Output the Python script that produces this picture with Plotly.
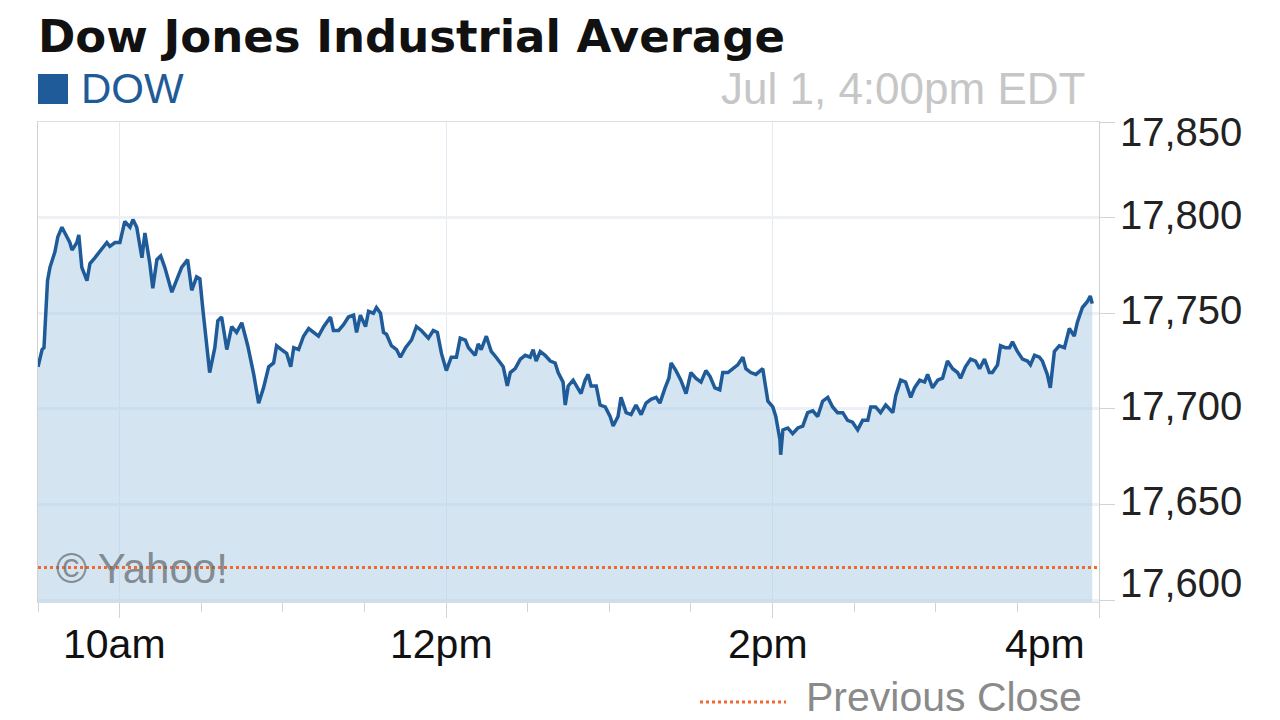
import plotly.graph_objects as go

# ---------------- data ----------------
minutes_after_open = [
    0, 1.5, 2.2, 2.8, 3.5, 4.4, 6.2, 7.3, 8.8, 10.6, 11.7, 12.5, 14.3, 15.0, 16.1, 18.0, 19.1, 20.9,
    23.5, 25.3, 26.4, 28.3, 30.1, 31.9, 33.8, 34.9, 36.3, 38.2, 39.3, 41.1, 42.2, 43.7, 45.1, 46.6,
    49.2, 51.0, 52.8, 55.0, 56.5, 58.3, 59.5, 60.6, 62.0, 63.1, 65.0, 66.1, 67.5, 69.4, 71.2, 73.0,
    74.9, 77.1, 79.3, 81.1, 82.9, 84.8, 86.6, 87.7, 89.5, 91.4, 92.9, 94.0, 95.8, 97.6, 99.5, 101.3,
    103.1, 105.0, 107.5, 108.6, 110.5, 112.3, 114.1, 116.0, 117.1, 118.5, 120.4, 121.5, 123.3, 124.4,
    125.9, 127.0, 128.1, 129.9, 131.8, 133.2, 135.1, 137.3, 139.1, 140.9, 143.5, 145.3, 146.8, 148.3,
    150.1, 151.9, 153.8, 155.2, 157.1, 158.2, 160.7, 161.8, 162.9, 164.8, 166.6, 168.4, 171.0, 172.5,
    173.6, 175.4, 177.3, 179.1, 180.9, 182.0, 183.1, 184.6, 186.4, 188.3, 190.1, 191.2, 193.0, 193.8,
    194.9, 196.7, 198.5, 199.6, 201.1, 202.2, 203.3, 205.2, 206.6, 208.5, 210.3, 211.4, 213.2, 214.3,
    216.2, 218.0, 219.8, 221.7, 223.5, 225.3, 227.2, 228.6, 230.5, 231.9, 232.7, 234.5, 236.3, 238.2,
    240.0, 241.8, 243.7, 245.5, 247.0, 248.8, 250.6, 251.7, 253.6, 255.4, 257.2, 259.1, 260.2, 262.0,
    263.9, 266.4, 267.5, 268.3, 270.1, 271.2, 272.7, 273.0, 273.8, 275.6, 277.4, 279.3, 281.1, 282.9,
    284.8, 286.6, 288.4, 290.3, 292.1, 293.9, 295.8, 297.6, 299.4, 301.3, 303.1, 305.0, 306.1, 307.9,
    309.7, 311.6, 312.3, 314.2, 315.3, 317.1, 318.9, 320.8, 322.2, 324.1, 325.9, 327.0, 328.8, 330.7,
    332.5, 334.3, 336.2, 338.0, 339.1, 340.9, 342.8, 344.6, 346.1, 347.9, 349.7, 350.8, 352.7, 353.8,
    355.6, 357.1, 358.2, 360.0, 361.9, 363.7, 364.8, 366.3, 368.1, 369.2, 371.0, 372.1, 373.6, 375.4,
    377.3, 379.1, 380.9, 382.0, 383.9, 385.7, 386.8, 387.5,
]
dow_values = [
    17722, 17731, 17732, 17752, 17767, 17774, 17782, 17790, 17795, 17790, 17787, 17783, 17787, 17791,
    17774, 17767, 17776, 17779, 17784, 17787, 17785, 17787, 17787, 17798, 17795, 17799, 17795, 17779,
    17792, 17776, 17763, 17778, 17780, 17774, 17761, 17767, 17774, 17778, 17762, 17769, 17768, 17752,
    17732, 17719, 17732, 17746, 17748, 17731, 17743, 17740, 17745, 17733, 17718, 17703, 17711, 17722,
    17724, 17733, 17731, 17729, 17722, 17732, 17731, 17738, 17742, 17740, 17738, 17743, 17748, 17741,
    17741, 17744, 17748, 17749, 17740, 17749, 17743, 17751, 17750, 17753, 17750, 17740, 17739, 17733,
    17731, 17727, 17732, 17736, 17743, 17741, 17737, 17741, 17740, 17729, 17720, 17727, 17727, 17737,
    17736, 17732, 17728, 17734, 17731, 17738, 17730, 17727, 17722, 17712, 17719, 17721, 17726, 17728,
    17727, 17731, 17725, 17730, 17728, 17725, 17724, 17719, 17714, 17702, 17712, 17715, 17711, 17708,
    17715, 17718, 17712, 17712, 17702, 17701, 17696, 17691, 17696, 17706, 17698, 17697, 17702, 17697,
    17703, 17705, 17706, 17703, 17711, 17716, 17724, 17720, 17715, 17708, 17719, 17716, 17714, 17720,
    17717, 17711, 17710, 17719, 17719, 17721, 17723, 17727, 17721, 17719, 17718, 17721, 17710, 17704,
    17701, 17696, 17684, 17676, 17689, 17690, 17687, 17690, 17691, 17698, 17699, 17696, 17704, 17706,
    17701, 17698, 17698, 17694, 17693, 17689, 17694, 17694, 17701, 17701, 17698, 17702, 17701, 17698,
    17707, 17715, 17714, 17706, 17711, 17715, 17714, 17718, 17711, 17715, 17716, 17725, 17721, 17719,
    17716, 17722, 17726, 17725, 17721, 17726, 17719, 17719, 17723, 17733, 17732, 17732, 17735, 17730,
    17726, 17725, 17723, 17728, 17727, 17725, 17718, 17711, 17730, 17733, 17732, 17742, 17738, 17745,
    17753, 17756, 17759, 17755,
]
previous_close = 17617
open_hour = 9.5
close_hour = 16.0
y_ticks = [17600, 17650, 17700, 17750, 17800, 17850]
x_tick_hours = [10, 12, 14, 16]
x_tick_labels = ["10am", "12pm", "2pm", "4pm"]
title_text = "Dow Jones Industrial Average"
series_name = "DOW"
timestamp_text = "Jul 1, 4:00pm EDT"

# ---------------- figure ----------------
hours = [open_hour + m / 60.0 for m in minutes_after_open]

LINE = "#1f5b98"
ORANGE = "#f0692e"
FONT = "Liberation Sans, Arial, sans-serif"

fig = go.Figure()
fig.add_trace(go.Scatter(
    x=hours, y=dow_values, mode="lines",
    line=dict(color=LINE, width=3.5),
    fill="tozeroy", fillcolor="rgba(170,203,228,0.5)",
    hoverinfo="x+y", showlegend=False,
))
fig.add_trace(go.Scatter(
    x=[open_hour, close_hour], y=[previous_close, previous_close], mode="lines",
    line=dict(color=ORANGE, width=3, dash="dot"),
    hoverinfo="skip", showlegend=False,
))

# the page body has an 8px margin; target plot area (page px): x 38..1099, y 122..602
OFF = 8
PL, PR, PT, PB = 38, 1099, 122, 602
L, T = PL - OFF, PT - OFF
R = 1280 - (PR - OFF)
B = 720 - (PB - OFF)
fig.update_layout(
    width=1280, height=720,
    margin=dict(l=L, r=R, t=T, b=B, pad=0),
    paper_bgcolor="white", plot_bgcolor="white",
    font=dict(family=FONT, color="#222222", size=39),
    showlegend=False,
)
fig.update_xaxes(
    range=[open_hour, close_hour],
    tickmode="array", tickvals=x_tick_hours, ticktext=x_tick_labels,
    showticklabels=False,
    ticks="outside", ticklen=15, tickcolor="#d3d3d3", tickwidth=1,
    minor=dict(tickmode="linear", tick0=open_hour, dtick=0.5, ticks="outside",
               ticklen=9, tickcolor="#d3d3d3", showgrid=False),
    showgrid=True, gridcolor="#e3ebf2", gridwidth=1,
    showline=True, linecolor="#dcdcdc", linewidth=1, mirror=True,
    zeroline=False, fixedrange=True,
)
fig.update_yaxes(
    range=[17599, 17850], side="right",
    tickmode="array", tickvals=y_ticks, showticklabels=False,
    ticks="outside", ticklen=15, tickcolor="#d3d3d3", tickwidth=1,
    showgrid=True, gridcolor="#edf1f6", gridwidth=3,
    showline=True, linecolor="#d0d0d0", linewidth=1, mirror=True,
    zeroline=False, fixedrange=True,
)

plot_w = PR - PL
plot_h = PB - PT


def px_x(px):
    return (px - PL) / plot_w


def px_y(py):
    return (PB - py) / plot_h


annotations = []
annotations.append(dict(text="<b>" + title_text + "</b>", xref="paper", yref="paper",
                        x=px_x(36), y=px_y(OFF), xanchor="left", yanchor="top", showarrow=False,
                        font=dict(family="DejaVu Sans, sans-serif", size=45, color="#111111")))
annotations.append(dict(text=series_name, xref="paper", yref="paper",
                        x=px_x(79), y=px_y(88), xanchor="left", yanchor="middle", showarrow=False,
                        font=dict(family=FONT, size=42, color=LINE)))
annotations.append(dict(text=timestamp_text, xref="paper", yref="paper",
                        x=px_x(1087), y=px_y(88), xanchor="right", yanchor="middle", showarrow=False,
                        font=dict(family=FONT, size=44, color="#c6c6c6")))
annotations.append(dict(text="© Yahoo!", xref="paper", yref="paper",
                        x=px_x(54), y=px_y(568), xanchor="left", yanchor="middle", showarrow=False,
                        font=dict(family=FONT, size=42, color="rgba(105,110,116,0.75)")))
annotations.append(dict(text="Previous Close", xref="paper", yref="paper",
                        x=px_x(804), y=px_y(697), xanchor="left", yanchor="middle", showarrow=False,
                        font=dict(family=FONT, size=41, color="#8a8a8a")))
for v in y_ticks:
    shift = 3
    if v == max(y_ticks):
        shift = -10
    elif v == min(y_ticks):
        shift = 17
    annotations.append(dict(text=f"{v:,}", xref="paper", yref="y", x=1, y=v, xshift=19,
                            yshift=shift, xanchor="left", yanchor="middle", showarrow=False,
                            font=dict(family=FONT, size=40, color="#222222")))
for h, lab in zip(x_tick_hours, x_tick_labels):
    if h == max(x_tick_hours):
        annotations.append(dict(text=lab, xref="x", yref="paper", x=h, y=px_y(644), xshift=-12,
                                xanchor="right", yanchor="middle", showarrow=False,
                                font=dict(family=FONT, size=41, color="#111111")))
    else:
        annotations.append(dict(text=lab, xref="x", yref="paper", x=h, y=px_y(644), xshift=-5,
                                xanchor="center", yanchor="middle", showarrow=False,
                                font=dict(family=FONT, size=41, color="#111111")))
fig.update_layout(annotations=annotations)

fig.update_layout(shapes=[
    dict(type="rect", xref="paper", yref="paper", x0=px_x(38), x1=px_x(68),
         y0=px_y(104), y1=px_y(74), fillcolor=LINE, line=dict(width=0)),
    dict(type="line", xref="paper", yref="paper", x0=px_x(700), x1=px_x(786),
         y0=px_y(702), y1=px_y(702), line=dict(color=ORANGE, width=3, dash="dot")),
])

fig.write_html("out.html")
